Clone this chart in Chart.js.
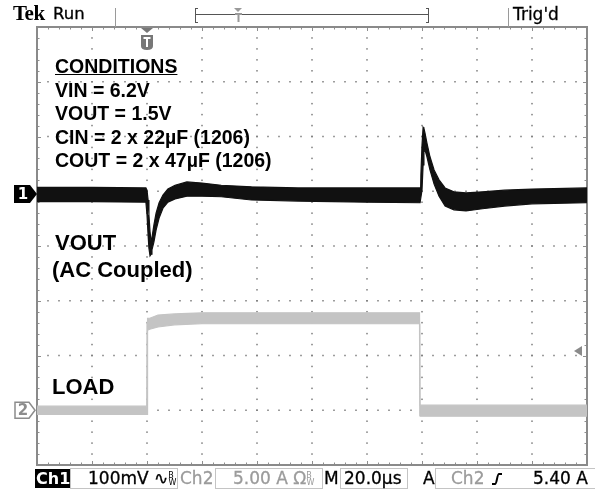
<!DOCTYPE html>
<html>
<head>
<meta charset="utf-8">
<script src="https://cdn.jsdelivr.net/npm/chart.js@4.4.1/dist/chart.umd.min.js"></script>
<style>
  body { margin: 0; background: #fff; }
  #scope { position: relative; width: 595px; height: 489px; overflow: hidden; background: #fff; }
  #scope canvas { position: absolute; left: 0; top: 0; }
  .t { position: absolute; white-space: nowrap; line-height: 1; }
  .note { font-family: "Liberation Sans", Arial, sans-serif; font-weight: bold; color: #000; }
  .bar { font-family: "DejaVu Sans", sans-serif; font-size: 17px; color: #000; -webkit-text-stroke: 0.3px currentColor; }
  .dim { color: #9b9b9b; }
  .box { position: absolute; border: 1px solid #c4c4c4; box-sizing: border-box; }
  .tiny { font-size: 8px; position: relative; -webkit-text-stroke: 0; }
</style>
</head>
<body>
<div id="scope">
  <canvas id="c" width="595" height="489"></canvas>

  <!-- status line -->
  <span class="t" style="left:13px;top:3px;font-family:'Liberation Serif',serif;font-weight:bold;font-size:21px;letter-spacing:-0.5px">Tek</span>
  <span class="t bar" style="left:53px;top:6px;font-size:16.5px">Run</span>
  <span class="t bar" style="left:513px;top:6px">Trig'd</span>

  <!-- test conditions -->
  <div class="t note" style="left:55px;top:55px;font-size:19.5px;line-height:23.5px">
    <div style="text-decoration:underline">CONDITIONS</div>
    <div>VIN = 6.2V</div>
    <div>VOUT = 1.5V</div>
    <div>CIN = 2 x 22µF (1206)</div>
    <div>COUT = 2 x 47µF (1206)</div>
  </div>
  <span class="t note" style="left:55px;top:232px;font-size:22px">VOUT</span>
  <span class="t note" style="left:52px;top:259px;font-size:22px">(AC Coupled)</span>
  <span class="t note" style="left:52px;top:376px;font-size:22px">LOAD</span>

  <!-- readout line -->
  <div class="box" style="left:35px;top:469px;width:35px;height:19px;background:#000;border-color:#000"></div>
  <span class="t bar" style="left:36px;top:471px;color:#fff;font-weight:bold;font-size:16px;-webkit-text-stroke:0">Ch1</span>
  <div class="box" style="left:70px;top:468px;width:108px;height:21px"></div>
  <span class="t bar" style="left:88px;top:470px">100mV ∿<span class="tiny" style="top:-6px">B</span><span class="tiny" style="left:-5px;top:1px">W</span></span>
  <span class="t bar dim" style="left:180px;top:470px">Ch2</span>
  <div class="box" style="left:215px;top:468px;width:108px;height:21px"></div>
  <span class="t bar dim" style="left:233px;top:470px">5.00 A Ω<span class="tiny" style="top:-6px">B</span><span class="tiny" style="left:-5px;top:1px">W</span></span>
  <span class="t bar" style="left:324px;top:470px">M</span>
  <div class="box" style="left:340px;top:468px;width:68px;height:21px"></div>
  <span class="t bar" style="left:344px;top:470px">20.0µs</span>
  <span class="t bar" style="left:423px;top:470px">A</span>
  <div class="box" style="left:435px;top:468px;width:160px;height:21px;border-right:none"></div>
  <span class="t bar dim" style="left:451px;top:470px">Ch2</span>
  <span class="t bar" style="left:533px;top:470px">5.40 A</span>
</div>

<script>
// Ch1: output voltage, AC coupled, 100 mV/div (envelope of the noisy trace)
const voutTimeUs = [0, 20, 39.6, 40.0, 40.4, 40.7, 41.1, 41.5, 41.8, 42.5,
  43.3, 44.4, 45.8, 47.6, 50.2, 54.5, 60, 67, 78, 95,
  120, 139.3, 139.6, 140.0, 140.4, 140.7, 141.1, 141.8, 142.9, 144.4,
  146.2, 148.4, 151.6, 156, 162, 170, 180, 200];
const voutMaxMv = [12, 12, 11, 7, -11, -38, -69, -88, -80, -57,
  -35, -16, -2, 9, 16, 22, 20, 16, 13, 11,
  11, 11, 35, 89, 122, 120, 111, 93, 68, 44,
  26, 11, 4, 2, 4, 7, 9, 11];
const voutMinMv = [-14, -14, -15, -38, -75, -99, -113, -110, -102, -88,
  -66, -44, -26, -15, -9, -4, -4, -5, -11, -13,
  -15, -16, -16, 7, 53, 77, 80, 68, 44, 18,
  -4, -22, -29, -31, -27, -22, -18, -16];

// Ch2: load current step, 5 A/div
const loadTimeUs = [0, 39.9, 40.0, 40.2, 41, 44, 50, 60, 100, 139.1, 139.2, 139.3, 160, 200];
const loadMaxA = [0.37, 0.37, 8.0, 8.4, 8.4, 8.7, 8.8, 8.9, 8.9, 8.9, 8.9, 0.46, 0.46, 0.46];
const loadMinA = [-0.37, -0.37, -0.37, 7.3, 7.4, 7.6, 7.8, 7.9, 7.9, 7.9, -0.5, -0.55, -0.55, -0.55];

// scope settings
const timePerDiv = 20;      // µs
const ch1PerDiv = 100;      // mV
const ch2PerDiv = 5;        // A
const ch1Pos = 0.95;        // divisions above centre
const ch2Pos = -3;
const triggerUs = 40;
const trigLevelA = 5.4;

const pts = (xs, ys) => xs.map((x, i) => ({ x, y: ys[i] }));

const graticule = {
  id: 'graticule',
  beforeDatasetsDraw(chart) {
    const { ctx, chartArea: a } = chart;
    const dw = (a.right - a.left) / 10, dh = (a.bottom - a.top) / 8;
    ctx.save();
    ctx.fillStyle = '#7d7d7d';
    for (let i = 1; i < 10; i++) {
      const gx = a.left + i * dw;
      for (let k = 1; k < 40; k++) ctx.fillRect(gx - 0.75, a.top + k * dh / 5 - 0.75, 1.5, 1.5);
    }
    for (let j = 1; j < 8; j++) {
      const gy = a.top + j * dh;
      for (let k = 1; k < 50; k++) ctx.fillRect(a.left + k * dw / 5 - 0.75, gy - 0.75, 1.5, 1.5);
    }
    // frame with minor ticks
    ctx.strokeStyle = '#8e8e8e';
    ctx.lineWidth = 1;
    ctx.beginPath();
    for (let k = 1; k < 50; k++) {
      const x = Math.round(a.left + k * dw / 5) + 0.5, len = k % 5 ? 2.5 : 4;
      ctx.moveTo(x, a.top); ctx.lineTo(x, a.top + len);
      ctx.moveTo(x, a.bottom); ctx.lineTo(x, a.bottom - len);
    }
    for (let k = 1; k < 40; k++) {
      const y = Math.round(a.top + k * dh / 5) + 0.5, len = k % 5 ? 2.5 : 4;
      ctx.moveTo(a.left, y); ctx.lineTo(a.left + len, y);
      ctx.moveTo(a.right, y); ctx.lineTo(a.right - len, y);
    }
    ctx.stroke();
    ctx.lineWidth = 2;
    ctx.strokeStyle = '#8a8a8a';
    ctx.strokeRect(a.left, a.top, a.right - a.left, a.bottom - a.top);
    ctx.restore();
  },
  afterDraw(chart) {
    const { ctx, chartArea: a, scales } = chart;
    ctx.save();
    // status line separators and record bracket
    ctx.strokeStyle = '#9a9a9a';
    ctx.lineWidth = 1;
    ctx.beginPath();
    ctx.moveTo(115.5, 8); ctx.lineTo(115.5, a.top);
    ctx.moveTo(508.5, 8); ctx.lineTo(508.5, a.top);
    ctx.stroke();
    ctx.strokeStyle = '#555';
    ctx.beginPath();
    ctx.moveTo(195.5, 8); ctx.lineTo(195.5, 23); ctx.moveTo(195.5, 8.5); ctx.lineTo(198, 8.5);
    ctx.moveTo(195.5, 22.5); ctx.lineTo(198, 22.5);
    ctx.moveTo(428.5, 8); ctx.lineTo(428.5, 23); ctx.moveTo(428.5, 8.5); ctx.lineTo(426, 8.5);
    ctx.moveTo(428.5, 22.5); ctx.lineTo(426, 22.5);
    ctx.moveTo(196, 14.5); ctx.lineTo(428, 14.5);
    ctx.stroke();
    ctx.fillStyle = '#9a9a9a';
    ctx.beginPath();
    ctx.moveTo(234, 8); ctx.lineTo(242, 8); ctx.lineTo(238, 12); ctx.fill();
    ctx.fillRect(235, 13, 7, 2); ctx.fillRect(237.5, 13, 2, 9);

    // trigger position marker
    const tx = scales.x.getPixelForValue(triggerUs);
    ctx.fillStyle = '#777';
    ctx.beginPath();
    ctx.moveTo(tx - 6, a.top + 1); ctx.lineTo(tx + 6, a.top + 1); ctx.lineTo(tx, a.top + 6); ctx.fill();
    ctx.beginPath();
    ctx.moveTo(tx - 6, a.top + 8); ctx.lineTo(tx + 6, a.top + 8); ctx.lineTo(tx + 6, a.top + 19);
    ctx.quadraticCurveTo(tx + 6, a.top + 23, tx, a.top + 23);
    ctx.quadraticCurveTo(tx - 6, a.top + 23, tx - 6, a.top + 19);
    ctx.closePath(); ctx.fill();
    ctx.fillStyle = '#fff';
    ctx.fillRect(tx - 3.5, a.top + 10, 7, 2); ctx.fillRect(tx - 1, a.top + 10, 2, 10);

    // channel ground markers
    const y1 = scales.yV.getPixelForValue(0);
    ctx.fillStyle = '#000';
    ctx.beginPath();
    ctx.moveTo(14, y1 - 9); ctx.lineTo(30, y1 - 9); ctx.lineTo(37, y1); ctx.lineTo(30, y1 + 9); ctx.lineTo(14, y1 + 9);
    ctx.closePath(); ctx.fill();
    ctx.fillStyle = '#fff';
    ctx.font = 'bold 15px "DejaVu Sans"';
    ctx.textAlign = 'center'; ctx.textBaseline = 'middle';
    ctx.fillText('1', 23, y1 + 1);

    const y2 = scales.yA.getPixelForValue(0);
    ctx.strokeStyle = '#8c8c8c'; ctx.lineWidth = 1.5;
    ctx.beginPath();
    ctx.moveTo(15, y2 - 8); ctx.lineTo(29, y2 - 8); ctx.lineTo(35, y2); ctx.lineTo(29, y2 + 8); ctx.lineTo(15, y2 + 8);
    ctx.closePath(); ctx.stroke();
    ctx.fillStyle = '#8c8c8c';
    ctx.fillText('2', 23, y2 + 1);

    // trigger level arrow
    const ty = scales.yA.getPixelForValue(trigLevelA);
    ctx.fillStyle = '#8a8a8a';
    ctx.beginPath();
    ctx.moveTo(a.right - 13, ty); ctx.lineTo(a.right - 5, ty - 5); ctx.lineTo(a.right - 5, ty + 5); ctx.fill();

    // rising slope symbol in readout
    ctx.strokeStyle = '#000'; ctx.lineWidth = 2;
    ctx.beginPath();
    ctx.moveTo(492, 484); ctx.lineTo(495, 484);
    ctx.bezierCurveTo(497, 484, 497, 474, 499, 474); ctx.lineTo(502, 474);
    ctx.stroke();
    ctx.restore();
  }
};

const trace = (label, data, axis, color, fill) => ({
  label, data, yAxisID: axis, borderColor: color, backgroundColor: color,
  borderWidth: 1.2, pointRadius: 0, tension: 0, fill
});

const ctx = document.getElementById('c');
const chart = new Chart(ctx, {
  type: 'line',
  data: {
    datasets: [
      trace('LOAD max', pts(loadTimeUs, loadMaxA), 'yA', '#c4c4c4', false),
      trace('LOAD min', pts(loadTimeUs, loadMinA), 'yA', '#c4c4c4', '-1'),
      trace('VOUT max', pts(voutTimeUs, voutMaxMv), 'yV', '#111', false),
      trace('VOUT min', pts(voutTimeUs, voutMinMv), 'yV', '#111', '-1')
    ]
  },
  options: {
    responsive: false,
    animation: false,
    events: [],
    layout: { padding: { left: 37, top: 27, right: 8, bottom: 24 } },
    plugins: { legend: { display: false }, tooltip: { enabled: false } },
    scales: {
      x: { type: 'linear', min: 0, max: 10 * timePerDiv, display: false },
      yV: { min: (-4 - ch1Pos) * ch1PerDiv, max: (4 - ch1Pos) * ch1PerDiv, display: false },
      yA: { min: (-4 - ch2Pos) * ch2PerDiv, max: (4 - ch2Pos) * ch2PerDiv, display: false }
    }
  },
  plugins: [graticule]
});
</script>
</body>
</html>
